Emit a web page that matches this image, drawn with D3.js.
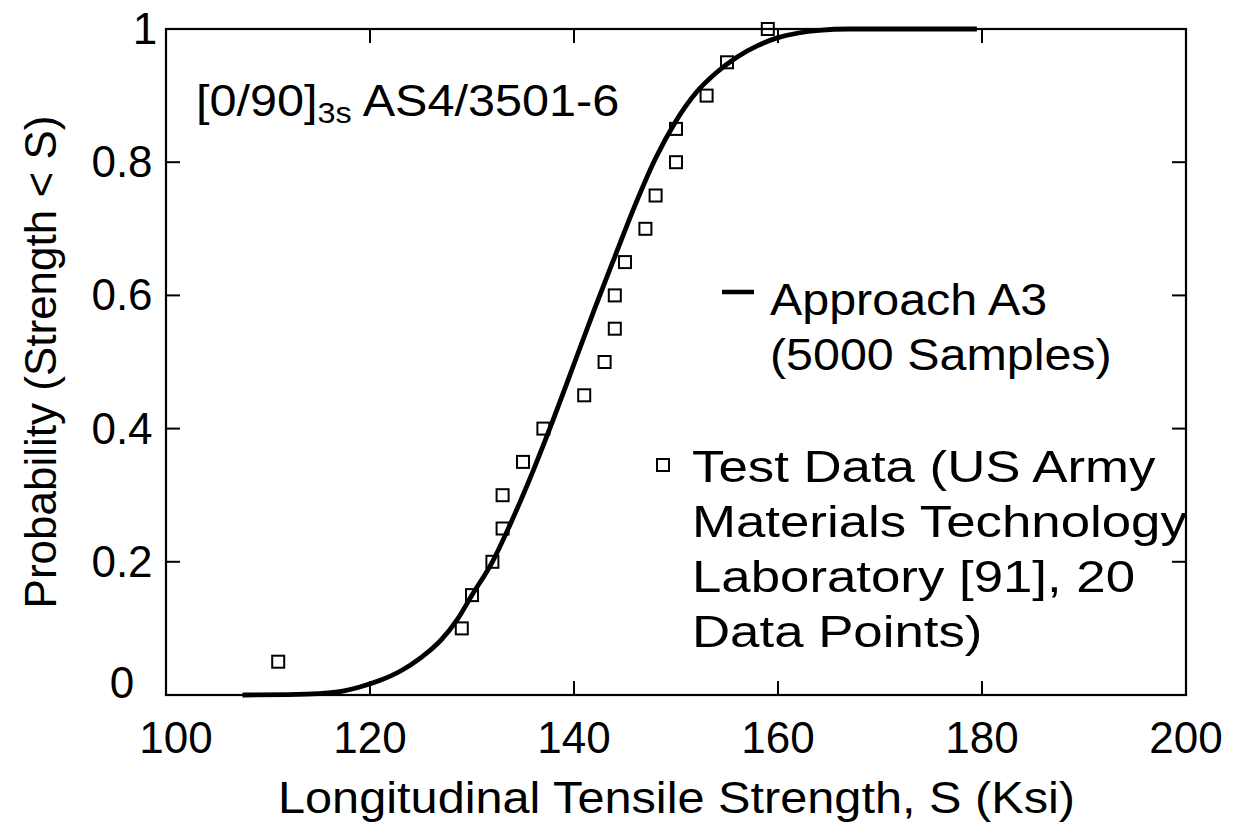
<!DOCTYPE html>
<html>
<head>
<meta charset="utf-8">
<script src="https://cdn.jsdelivr.net/npm/d3@7"></script>
<style>
  body { margin: 0; background: #fff; }
  svg { display: block; }
  text { font-family: "Liberation Sans", Arial, sans-serif; fill: #000; }
</style>
</head>
<body>
<svg width="1237" height="823"></svg>
<script>
(function () {

	// Approach A3 simulated CDF
	var curveS = [107.5, 112, 115, 117, 119, 121, 123, 125, 127, 128.5, 130, 132, 134, 136, 138, 140,
		142, 144, 146, 148, 150, 152, 154, 156, 158, 160, 162, 164, 167, 179.5];
	var curveP = [0, 0.0005, 0.002, 0.005, 0.012, 0.022, 0.036, 0.056, 0.083, 0.112, 0.15, 0.2, 0.265, 0.337, 0.415, 0.497,
		0.579, 0.658, 0.736, 0.806, 0.862, 0.905, 0.935, 0.958, 0.975, 0.987, 0.994, 0.998, 1.0, 1.0];

	// test data, 20 points
	var testS = [111, 129, 130, 132, 133, 133, 135, 137, 141, 143, 144, 144, 145, 147, 148, 150, 150, 153, 155, 159];
	var testP = [0.05, 0.10, 0.15, 0.20, 0.25, 0.30, 0.35, 0.40, 0.45, 0.50, 0.55, 0.60, 0.65, 0.70, 0.75, 0.80, 0.85, 0.90, 0.95, 1.0];

	var xTicks = [100, 120, 140, 160, 180, 200];
	var yTicks = [0, 0.2, 0.4, 0.6, 0.8, 1];

	var legendLine = ["Approach A3", "(5000 Samples)"];
	var legendSquare = ["Test Data (US Army", "Materials Technology", "Laboratory [91], 20", "Data Points)"];

	var svg = d3.select("svg");

	var x = d3.scaleLinear().domain([100, 200]).range([166, 1186]);
	var y = d3.scaleLinear().domain([0, 1]).range([695, 29]);

	// frame
	svg.append("rect")
		.attr("x", x(100)).attr("y", y(1))
		.attr("width", x(200) - x(100)).attr("height", y(0) - y(1))
		.attr("fill", "none").attr("stroke", "#000").attr("stroke-width", 2.2);

	// inner ticks
	var tl = 14;
	var inner = xTicks.slice(1, -1);
	svg.selectAll(".xtb").data(inner).enter().append("line")
		.attr("x1", function(d){ return x(d); }).attr("x2", function(d){ return x(d); })
		.attr("y1", y(0)).attr("y2", y(0) - tl)
		.attr("stroke", "#000").attr("stroke-width", 2);
	svg.selectAll(".xtt").data(inner).enter().append("line")
		.attr("x1", function(d){ return x(d); }).attr("x2", function(d){ return x(d); })
		.attr("y1", y(1)).attr("y2", y(1) + tl)
		.attr("stroke", "#000").attr("stroke-width", 2);
	var yin = yTicks.slice(1, -1);
	svg.selectAll(".ytl").data(yin).enter().append("line")
		.attr("x1", x(100)).attr("x2", x(100) + tl)
		.attr("y1", function(d){ return y(d); }).attr("y2", function(d){ return y(d); })
		.attr("stroke", "#000").attr("stroke-width", 2);
	svg.selectAll(".ytr").data(yin).enter().append("line")
		.attr("x1", x(200)).attr("x2", x(200) - tl)
		.attr("y1", function(d){ return y(d); }).attr("y2", function(d){ return y(d); })
		.attr("stroke", "#000").attr("stroke-width", 2);

	// tick labels
	svg.selectAll(".xl").data(xTicks).enter().append("text")
		.attr("x", function(d){ return x(d) + (d === 100 ? 10 : 0); })
		.attr("y", 753)
		.attr("text-anchor", "middle")
		.style("font-size", "44px")
		.text(function(d){ return d; });
	svg.selectAll(".yl").data(yTicks).enter().append("text")
		.attr("x", function(d){ return d === 1 ? 145 : 122; })
		.attr("y", function(d){ return y(d) + 15 - (d === 0 ? 12 : 0); })
		.attr("text-anchor", "middle")
		.style("font-size", "44px")
		.text(function(d){ return d; });

	// axis titles
	svg.append("text")
		.attr("x", 278).attr("y", 813)
		.attr("textLength", 797).attr("lengthAdjust", "spacingAndGlyphs")
		.style("font-size", "45px")
		.text("Longitudinal Tensile Strength, S (Ksi)");
	svg.append("text")
		.attr("transform", "translate(56,362) rotate(-90)")
		.attr("text-anchor", "middle")
		.style("font-size", "44px")
		.text("Probability (Strength < S)");

	// material annotation
	var ann = svg.append("text")
		.attr("transform", "translate(196,116) scale(1.08,1)")
		.style("font-size", "45px");
	ann.append("tspan").text("[0/90]");
	ann.append("tspan").attr("dy", 7).style("font-size", "30px").text("3s");
	ann.append("tspan").attr("dy", -7).text(" AS4/3501-6");

	// CDF curve
	var pts = curveS.map(function(s, i){ return [s, curveP[i]]; });
	var line = d3.line()
		.x(function(d){ return x(d[0]); })
		.y(function(d){ return y(d[1]); })
		.curve(d3.curveMonotoneX);
	svg.append("path")
		.attr("d", line(pts))
		.attr("fill", "none").attr("stroke", "#000").attr("stroke-width", 4.8)
		.attr("stroke-linejoin", "round");

	// test data squares
	var sq = 12;
	svg.selectAll(".pt").data(testS).enter().append("rect")
		.attr("x", function(d){ return x(d) - sq / 2; })
		.attr("y", function(d, i){ return y(testP[i]) - sq / 2; })
		.attr("width", sq).attr("height", sq)
		.attr("fill", "none").attr("stroke", "#000").attr("stroke-width", 2);

	// legend
	svg.append("line")
		.attr("x1", 722).attr("x2", 754).attr("y1", 292).attr("y2", 292)
		.attr("stroke", "#000").attr("stroke-width", 4.5);
	svg.selectAll(".lg1").data(legendLine).enter().append("text")
		.attr("transform", function(d, i){ return "translate(770," + (315 + i * 55) + ") scale(1.1,1)"; })
		.style("font-size", "44px")
		.text(function(d){ return d; });

	svg.append("rect")
		.attr("x", 657).attr("y", 459).attr("width", sq).attr("height", sq)
		.attr("fill", "none").attr("stroke", "#000").attr("stroke-width", 2);
	svg.selectAll(".lg2").data(legendSquare).enter().append("text")
		.attr("transform", function(d, i){ return "translate(692," + (482 + i * 55) + ") scale(1.2,1)"; })
		.style("font-size", "44px")
		.text(function(d){ return d; });

})();
</script>
</body>
</html>
